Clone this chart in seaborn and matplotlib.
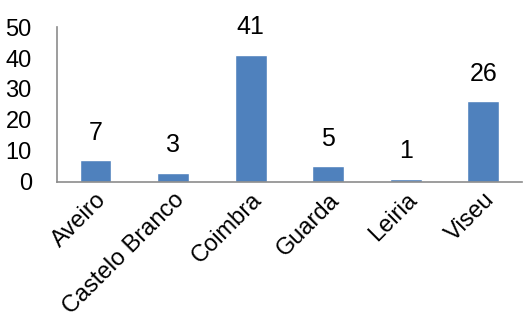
import matplotlib
matplotlib.use("Agg")
import matplotlib.pyplot as plt
import seaborn as sns
import pandas as pd

distritos = ["Aveiro", "Castelo Branco", "Coimbra", "Guarda", "Leiria", "Viseu"]
valores = [7, 3, 41, 5, 1, 26]

df = pd.DataFrame({"distrito": distritos, "valor": valores})

sns.set_theme(style="white")
plt.rcParams["font.family"] = ["Liberation Sans", "DejaVu Sans"]

fig = plt.figure(figsize=(5.31, 3.26), dpi=100)
ax = fig.add_axes([0.107, 0.442, 0.876, 0.475])

sns.barplot(data=df, x="distrito", y="valor", color="#4F81BD", width=0.41,
            saturation=1, ax=ax)

for i, v in enumerate(valores):
    ax.text(i, v + 5, str(v), ha="center", va="bottom", fontsize=18, color="#000000")

ax.set_ylim(0, 50)
ax.set_yticks([0, 10, 20, 30, 40, 50])
ax.set_xlim(-0.5, len(distritos) - 0.5)
ax.set_xlabel("")
ax.set_ylabel("")
ax.tick_params(axis="y", length=0, labelsize=17, pad=18, labelcolor="#000000")
ax.tick_params(axis="x", length=0, labelsize=17, pad=5, labelcolor="#000000")
plt.setp(ax.get_xticklabels(), rotation=45, ha="right", rotation_mode="anchor")

sns.despine(ax=ax, top=True, right=True)
for s in ["left", "bottom"]:
    ax.spines[s].set_color("#8c8c8c")
    ax.spines[s].set_linewidth(1.2)

plt.savefig("out.png", dpi=100)
